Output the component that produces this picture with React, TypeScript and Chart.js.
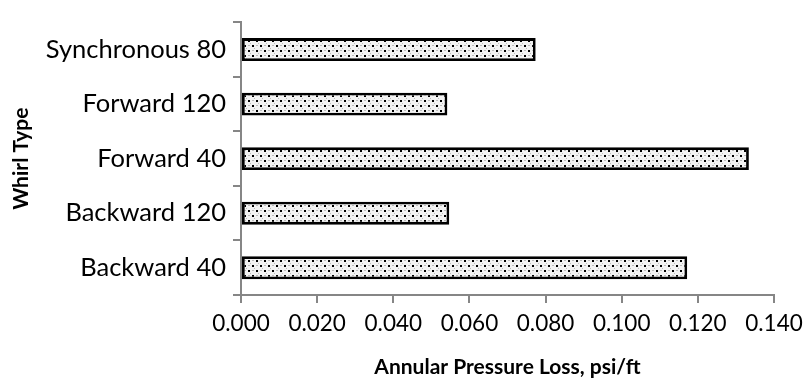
import { useEffect, useRef } from "react";
import { Chart, registerables } from "chart.js";

Chart.register(...registerables);

const categories = ["Synchronous 80", "Forward 120", "Forward 40", "Backward 120", "Backward 40"];
const pressureLoss = [0.0774, 0.0542, 0.1334, 0.0547, 0.1172];
const xMin = 0;
const xMax = 0.14;
const xStep = 0.02;
const xTitle = "Annular Pressure Loss, psi/ft";
const yTitle = "Whirl Type";

const FAMILY = "Lato, 'Liberation Sans', sans-serif";
const AXIS_COLOR = "#868686";

export default function App() {
  const ref = useRef<HTMLCanvasElement>(null);

  useEffect(() => {
    const canvas = ref.current!;
    const tile = document.createElement("canvas");
    tile.width = 8;
    tile.height = 10;
    const t = tile.getContext("2d")!;
    t.fillStyle = "#f3f3f3";
    t.fillRect(0, 0, 8, 10);
    t.fillStyle = "#bdbdbd";
    t.fillRect(4, 0, 2, 1);
    t.fillRect(0, 5, 2, 1);
    t.fillRect(2, 3, 1, 1);
    t.fillRect(6, 8, 1, 1);
    t.fillStyle = "#000";
    t.fillRect(0, 0, 2, 2);
    t.fillRect(4, 5, 2, 2);
    const pattern = canvas.getContext("2d")!.createPattern(tile, "repeat")!;

    const chart = new Chart(canvas, {
      type: "bar",
      data: {
        labels: categories,
        datasets: [
          {
            data: pressureLoss,
            backgroundColor: pattern,
            borderColor: "#000",
            borderWidth: 2.8,
            borderSkipped: false,
            categoryPercentage: 1,
            barPercentage: 0.42,
          },
        ],
      },
      options: {
        indexAxis: "y",
        responsive: false,
        animation: false,
        devicePixelRatio: 1,
        layout: { padding: { left: 0, right: 32, top: 5, bottom: 0 } },
        plugins: { legend: { display: false }, tooltip: { enabled: false } },
        scales: {
          x: {
            min: xMin,
            max: xMax,
            afterFit: (s: any) => {
              s.height = 389 - 295;
              s.paddingRight = 0;
              s.paddingLeft = 0;
            },
            ticks: {
              stepSize: xStep,
              color: "#000",
              padding: 7,
              font: { family: FAMILY, size: 22.5 },
              callback: (v: any) => Number(v).toFixed(3),
            },
            grid: { drawOnChartArea: false, drawTicks: true, tickLength: 8, color: AXIS_COLOR, lineWidth: 2 },
            border: { color: AXIS_COLOR, width: 2 },
            title: {
              display: true,
              text: xTitle,
              color: "#000",
              font: { family: FAMILY, size: 21, weight: "bold" },
              padding: { top: 0, bottom: 9 },
            },
          },
          y: {
            afterFit: (s: any) => {
              s.width = 241;
            },
            grid: { offset: true, drawOnChartArea: false, drawTicks: true, tickLength: 8, color: AXIS_COLOR, lineWidth: 2 },
            border: { color: AXIS_COLOR, width: 2 },
            ticks: { color: "#000", padding: 7, font: { family: FAMILY, size: 25.5 } },
            title: {
              display: true,
              text: yTitle,
              color: "#000",
              font: { family: FAMILY, size: 21, weight: "bold" },
              padding: { top: 9, bottom: 0 },
            },
          },
        },
      },
    } as any);
    return () => chart.destroy();
  }, []);

  return (
    <div style={{ position: "absolute", left: 0, top: 0, width: 806, height: 389, background: "#fff" }}>
      <canvas ref={ref} width={806} height={389} style={{ display: "block" }} />
    </div>
  );
}
